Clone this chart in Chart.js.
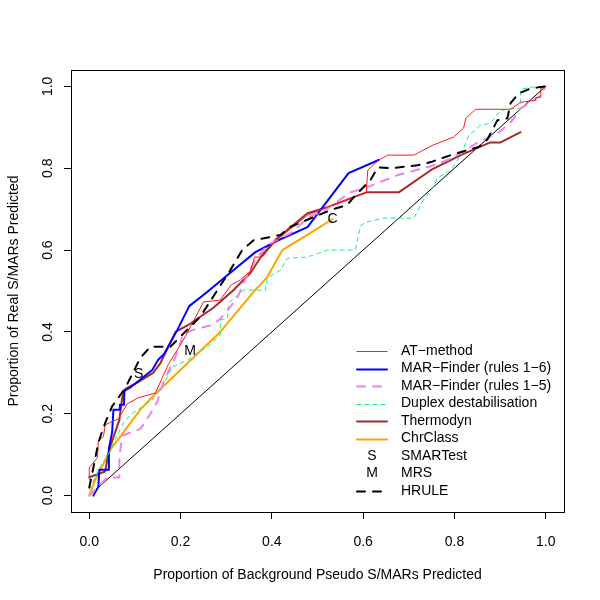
<!DOCTYPE html>
<html>
<head>
<meta charset="utf-8">
<script src="https://cdn.jsdelivr.net/npm/chart.js@4"></script>
<style>
  html, body { margin: 0; padding: 0; background: #fff; }
</style>
</head>
<body>
<canvas id="roc" width="600" height="600"></canvas>
<script>
  // tick positions on both axes
  const xTicks = [0, 0.2, 0.4, 0.6, 0.8, 1.0];
  const yTicks = [0, 0.2, 0.4, 0.6, 0.8, 1.0];

  // [background fraction, real fraction]
  const atMethod = [
    [0, 0.039], [0, 0.068], [0.018, 0.093], [0.02, 0.134], [0.031, 0.144], [0.035, 0.173],
    [0.064, 0.188], [0.083, 0.224], [0.107, 0.239], [0.145, 0.251], [0.173, 0.32], [0.206, 0.38],
    [0.232, 0.434], [0.25, 0.473], [0.287, 0.478], [0.311, 0.515], [0.331, 0.527], [0.353, 0.549],
    [0.362, 0.583], [0.379, 0.583], [0.41, 0.624], [0.478, 0.685], [0.522, 0.705], [0.607, 0.741],
    [0.61, 0.795], [0.634, 0.82], [0.654, 0.832], [0.711, 0.832], [0.752, 0.856], [0.798, 0.876],
    [0.82, 0.898], [0.825, 0.922], [0.846, 0.944], [0.923, 0.944], [0.945, 0.961], [0.978, 0.966],
    [0.978, 0.973], [0.989, 0.973], [0.989, 0.995], [1, 1]
  ];
  const marFinder16 = [
    [0.009, 0.0], [0.02, 0.022], [0.022, 0.063], [0.042, 0.063], [0.043, 0.115], [0.05, 0.154],
    [0.053, 0.21], [0.066, 0.21], [0.067, 0.222], [0.076, 0.222], [0.077, 0.256], [0.092, 0.266],
    [0.138, 0.307], [0.151, 0.332], [0.164, 0.346], [0.193, 0.405], [0.219, 0.463], [0.259, 0.498],
    [0.303, 0.539], [0.364, 0.595], [0.414, 0.624], [0.478, 0.656], [0.568, 0.788], [0.634, 0.82]
  ];
  const marFinder15 = [
    [0, 0], [0.039, 0.044], [0.066, 0.044], [0.066, 0.095], [0.072, 0.146], [0.09, 0.154],
    [0.112, 0.163], [0.134, 0.2], [0.149, 0.229], [0.162, 0.276], [0.173, 0.302], [0.189, 0.339],
    [0.206, 0.395], [0.228, 0.405], [0.27, 0.417], [0.287, 0.432], [0.309, 0.461], [0.325, 0.485],
    [0.346, 0.539], [0.364, 0.576], [0.39, 0.612], [0.419, 0.629], [0.441, 0.641], [0.478, 0.678],
    [0.522, 0.702], [0.572, 0.741], [0.61, 0.754], [0.675, 0.783], [0.748, 0.805], [0.785, 0.82],
    [0.814, 0.837], [0.851, 0.863], [0.895, 0.885], [0.923, 0.912], [0.945, 0.946], [0.967, 0.961],
    [0.989, 0.978], [1, 1]
  ];
  const duplex = [
    [0, 0.015], [0.024, 0.071], [0.039, 0.093], [0.053, 0.129], [0.075, 0.178], [0.09, 0.198],
    [0.116, 0.217], [0.138, 0.234], [0.156, 0.259], [0.171, 0.29], [0.182, 0.315], [0.217, 0.332],
    [0.237, 0.349], [0.259, 0.363], [0.287, 0.393], [0.287, 0.429], [0.303, 0.434], [0.305, 0.471],
    [0.338, 0.502], [0.386, 0.502], [0.39, 0.532], [0.419, 0.551], [0.434, 0.58], [0.478, 0.583],
    [0.522, 0.6], [0.583, 0.6], [0.594, 0.659], [0.605, 0.668], [0.645, 0.678], [0.711, 0.678],
    [0.732, 0.722], [0.752, 0.751], [0.763, 0.776], [0.792, 0.795], [0.814, 0.832], [0.831, 0.88],
    [0.857, 0.905], [0.879, 0.91], [0.901, 0.941], [0.923, 0.946], [0.945, 0.946], [0.945, 0.993],
    [0.967, 0.998], [1, 1]
  ];
  const thermodyn = [
    [0, 0.045], [0.035, 0.059], [0.043, 0.11], [0.066, 0.185], [0.072, 0.239], [0.079, 0.261],
    [0.105, 0.276], [0.14, 0.3], [0.156, 0.324], [0.189, 0.4], [0.217, 0.417], [0.272, 0.459],
    [0.314, 0.5], [0.353, 0.544], [0.379, 0.588], [0.41, 0.627], [0.478, 0.69], [0.522, 0.705],
    [0.607, 0.741], [0.678, 0.741], [0.752, 0.798], [0.814, 0.832], [0.853, 0.851], [0.879, 0.863],
    [0.901, 0.863], [0.945, 0.888]
  ];
  const chrClass = [
    [0, 0], [0.013, 0.039], [0.048, 0.115], [0.112, 0.21], [0.145, 0.249], [0.287, 0.4],
    [0.36, 0.498], [0.39, 0.534], [0.423, 0.6], [0.478, 0.637], [0.533, 0.676]
  ];
  const hrule = [
    [0, 0.02], [0.009, 0.068], [0.02, 0.13], [0.035, 0.178], [0.05, 0.218], [0.079, 0.263],
    [0.112, 0.337], [0.134, 0.364], [0.178, 0.364], [0.243, 0.437], [0.309, 0.551], [0.335, 0.6],
    [0.36, 0.624], [0.419, 0.637], [0.441, 0.657], [0.529, 0.698], [0.565, 0.71], [0.579, 0.729],
    [0.616, 0.771], [0.632, 0.802], [0.66, 0.8], [0.719, 0.807], [0.748, 0.815], [0.792, 0.832],
    [0.853, 0.852], [0.872, 0.87], [0.894, 0.917], [0.916, 0.922], [0.923, 0.959], [0.941, 0.983],
    [0.967, 0.995], [1, 1]
  ];
  const smartTest = [[0.108, 0.296]];
  const mrs = [[0.221, 0.352]];
  const diagonal = [[0, 0], [1, 1]];

  const legendLabels = [
    'AT\u2212method', 'MAR\u2212Finder (rules 1\u22126)', 'MAR\u2212Finder (rules 1\u22125)',
    'Duplex destabilisation', 'Thermodyn', 'ChrClass', 'SMARTest', 'MRS', 'HRULE'
  ];

  const pts = arr => arr.map(p => ({ x: p[0], y: p[1] }));

  function line(label, data, color, width, dash) {
    return {
      label: label,
      data: pts(data),
      showLine: true,
      borderColor: color,
      backgroundColor: color,
      borderWidth: width,
      borderDash: dash || [],
      borderCapStyle: 'round',
      borderJoinStyle: 'round',
      pointRadius: 0,
      tension: 0,
      fill: false
    };
  }

  const datasets = [
    line('HRULE', hrule, '#000000', 2, [8, 8]),
    line(legendLabels[0], atMethod, '#ff1a1a', 1),
    line(legendLabels[2], marFinder15, '#ee82ee', 2, [8, 8]),
    line(legendLabels[3], duplex, '#19f07a', 1, [4, 4]),
    line(legendLabels[1], marFinder16, '#0000ff', 2),
    line(legendLabels[4], thermodyn, '#a52a2a', 2),
    Object.assign(line(legendLabels[5], chrClass, '#ffa500', 2), { endLetter: 'C' }),
    Object.assign(line(legendLabels[6], smartTest, '#000', 1), { showLine: false, letter: 'S' }),
    Object.assign(line(legendLabels[7], mrs, '#000', 1), { showLine: false, letter: 'M' }),
    line('diagonal', diagonal, '#000000', 1)
  ];

  const FONT = "'Liberation Sans', Arial, Helvetica, sans-serif";
  Chart.defaults.font.family = FONT;
  Chart.defaults.font.size = 14;
  Chart.defaults.color = '#000';

  // box round the plot region, like R's box()
  const boxPlugin = {
    id: 'rbox',
    afterDraw(chart) {
      const a = chart.chartArea, ctx = chart.ctx;
      ctx.save();
      ctx.strokeStyle = '#000';
      ctx.lineWidth = 1;
      ctx.strokeRect(Math.round(a.left) + 0.5, Math.round(a.top) + 0.5,
        Math.round(a.right - a.left), Math.round(a.bottom - a.top));
      ctx.restore();
    }
  };

  // letter symbols S, M and the C at the end of ChrClass
  const letterPlugin = {
    id: 'letters',
    afterDatasetsDraw(chart) {
      const ctx = chart.ctx;
      ctx.save();
      ctx.font = '14px ' + FONT;
      ctx.fillStyle = '#000';
      ctx.textAlign = 'center';
      ctx.textBaseline = 'middle';
      chart.data.datasets.forEach((ds, i) => {
        const meta = chart.getDatasetMeta(i);
        if (ds.letter) meta.data.forEach(el => ctx.fillText(ds.letter, el.x, el.y));
        if (ds.endLetter) {
          const el = meta.data[meta.data.length - 1];
          ctx.fillText(ds.endLetter, el.x, el.y);
        }
      });
      ctx.restore();
    }
  };

  // R-style legend in the lower right of the plot region
  const legendPlugin = {
    id: 'rlegend',
    afterDraw(chart) {
      const a = chart.chartArea, ctx = chart.ctx;
      const x0 = a.right - 207, x1 = a.right - 177, xt = a.right - 163;
      ctx.save();
      ctx.font = '14px ' + FONT;
      ctx.textBaseline = 'middle';
      legendLabels.forEach((lab, i) => {
        const ds = chart.data.datasets.find(d => d.label === lab);
        const y = a.bottom - 161 + i * 17.5;
        if (ds.letter) {
          ctx.fillStyle = '#000';
          ctx.textAlign = 'center';
          ctx.fillText(ds.letter, (x0 + x1) / 2, y);
        } else {
          ctx.strokeStyle = ds.borderColor;
          ctx.lineWidth = ds.borderWidth;
          ctx.lineCap = 'round';
          ctx.setLineDash(ds.borderDash);
          ctx.beginPath();
          ctx.moveTo(x0, Math.round(y) + 0.5);
          ctx.lineTo(x1, Math.round(y) + 0.5);
          ctx.stroke();
          ctx.setLineDash([]);
        }
        ctx.fillStyle = '#000';
        ctx.textAlign = 'left';
        ctx.fillText(lab, xt, y);
      });
      ctx.restore();
    }
  };

  new Chart(document.getElementById('roc'), {
    type: 'scatter',
    data: { datasets: datasets },
    options: {
      responsive: false,
      animation: false,
      layout: { padding: { top: 70, right: 36, left: 0, bottom: 0 } },
      plugins: { legend: { display: false }, tooltip: { enabled: false } },
      scales: {
        x: {
          type: 'linear',
          min: -0.04,
          max: 1.04,
          afterBuildTicks: s => { s.ticks = xTicks.map(v => ({ value: v })); },
          afterFit: s => { s.height = 88; },
          border: { display: false },
          grid: { drawOnChartArea: false, drawTicks: true, tickLength: 7, color: '#000' },
          ticks: { padding: 15, maxRotation: 0, callback: v => v.toFixed(1) },
          title: {
            display: true,
            text: 'Proportion of Background Pseudo S/MARs Predicted',
            padding: { top: 0, bottom: 16 }
          }
        },
        y: {
          type: 'linear',
          min: -0.04,
          max: 1.04,
          afterBuildTicks: s => { s.ticks = yTicks.map(v => ({ value: v })); },
          afterFit: s => { s.width = 71; },
          border: { display: false },
          grid: { drawOnChartArea: false, drawTicks: true, tickLength: 7, color: '#000' },
          ticks: { padding: 6, minRotation: 90, maxRotation: 90, crossAlign: 'center',
            callback: v => v.toFixed(1) },
          title: {
            display: true,
            text: 'Proportion of Real S/MARs Predicted',
            padding: { top: 6, bottom: 0 }
          }
        }
      }
    },
    plugins: [boxPlugin, letterPlugin, legendPlugin]
  });
</script>
</body>
</html>
